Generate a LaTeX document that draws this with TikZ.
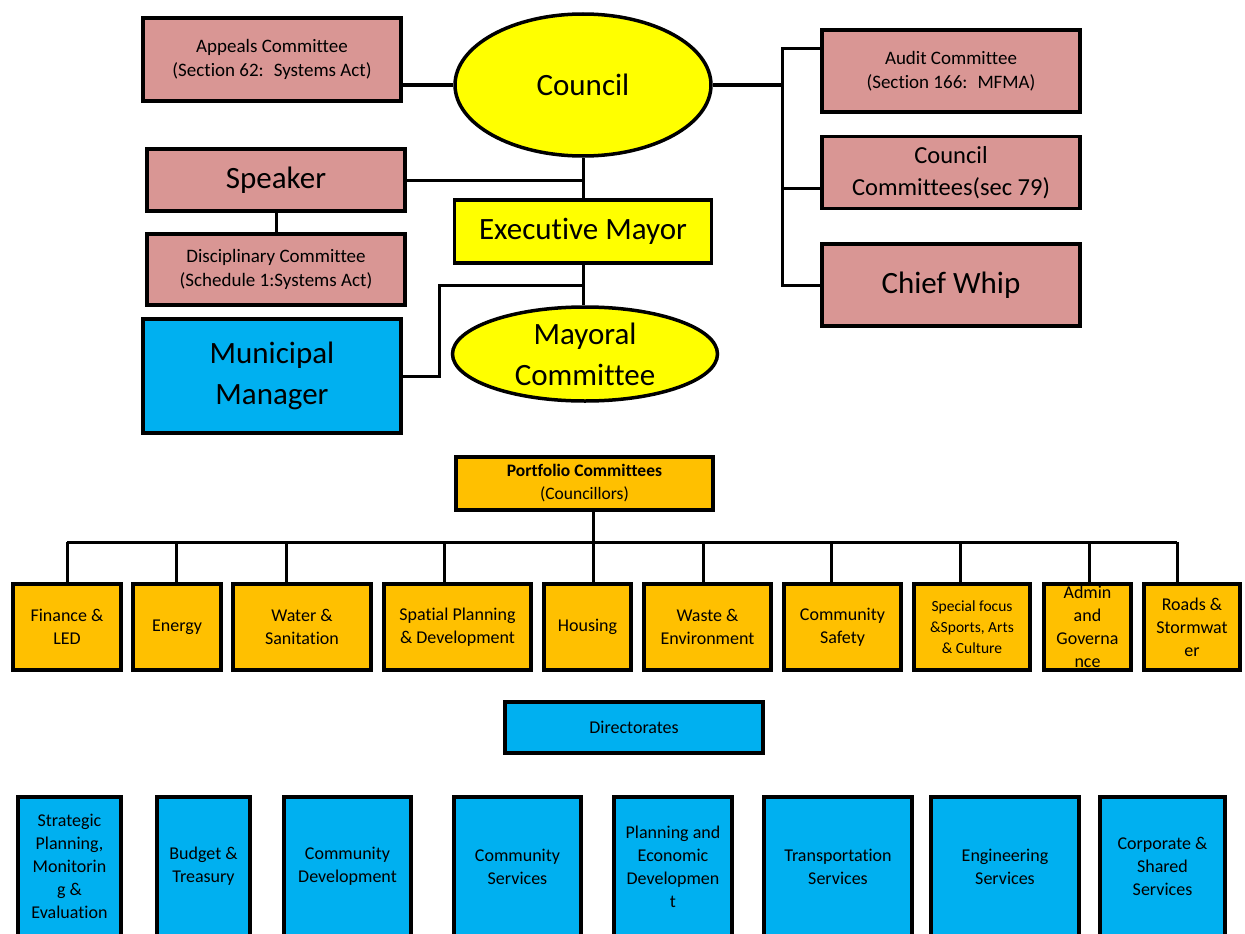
\documentclass[tikz,border=0pt]{standalone}
\usepackage{fontspec}
\setmainfont{Carlito}[Ligatures={NoCommon}]
\usetikzlibrary{shapes.geometric}
\definecolor{pinkbg}{HTML}{D99694}
\definecolor{yellowbg}{HTML}{FFFF00}
\definecolor{bluebg}{HTML}{00B0F0}
\definecolor{orangebg}{HTML}{FFC000}
\begin{document}
\begin{tikzpicture}[x=1pt,y=-1pt,
  box/.style={draw,line width=3.5pt,inner sep=1pt,align=center},
  pinkbox/.style={box,fill=pinkbg},
  portbox/.style={box,fill=orangebg,small,minimum height=86},
  dirbox/.style={box,fill=bluebg,small,minimum height=139},
  oval/.style={ellipse,draw,line width=3.5pt,fill=yellowbg,inner sep=0pt},
  big/.style={font=\fontsize{31}{41}\selectfont},
  small/.style={font=\fontsize{18}{23}\selectfont},
  tiny/.style={font=\fontsize{19}{24}\selectfont},
  wire/.style={line width=3pt}]
\path[use as bounding box,clip](0,0)rectangle(1245,934);

\node[oval,big,minimum width=256,minimum height=142](council)at(583,85){Council};
\node[pinkbox,tiny,minimum width=258,minimum height=83](appeals)at(272,59.5){Appeals Committee\\(Section 62:~ Systems Act)};
\node[pinkbox,big,minimum width=258,minimum height=62](speaker)at(276,180){Speaker};
\node[pinkbox,tiny,minimum width=258,minimum height=71](disc)at(276,269.5){Disciplinary Committee\\(Schedule 1:Systems Act)};
\node[box,fill=bluebg,big,minimum width=258,minimum height=114](mm)at(272,376){Municipal\\Manager};
\node[box,fill=yellowbg,big,minimum width=257,minimum height=63](exec)at(583,231.5){Executive Mayor};
\node[oval,minimum width=265,minimum height=94](mayoral)at(585,354){};
\node[big,align=center](mayoraltext)at(mayoral){Mayoral\\Committee};
\node[pinkbox,tiny,minimum width=258,minimum height=82](audit)at(951,71){Audit Committee\\(Section 166:~ MFMA)};
\node[pinkbox,font=\fontsize{24.5}{32}\selectfont,minimum width=258,minimum height=72](cc)at(951,172.5){Council\\Committees(sec 79)};
\node[pinkbox,big,minimum width=258,minimum height=82](whip)at(951,285){Chief Whip};

\coordinate(rbus)at(782,85);
\coordinate(mmknee)at(439,285);
\draw[wire](council.west)--(council.west-|appeals.east);
\draw[wire](council.east)--(rbus);
\draw[wire](audit.west|-0,49)-|(rbus|-whip.west)--(whip.west);
\draw[wire](rbus|-0,188)--(cc.west|-0,188);
\draw[wire](council.south)--(exec.north);
\draw[wire](speaker.east)--(speaker.east-|council.south);
\draw[wire](speaker.south)--(disc.north);
\draw[wire](exec.south)--(exec.south|-mayoral.north);
\draw[wire](mm.east)-|(mmknee)--(mmknee-|exec.south);

\node[box,fill=orangebg,font=\fontsize{17.5}{23}\selectfont,minimum width=257,minimum height=53](port)at(584.5,483.5){\textbf{Portfolio Committees}\\(Councillors)};
\foreach \n/\x/\w/\t in {p1/67/108/{Finance \&\\LED},p2/177/88/{Energy},p3/302/138/{Water \&\\Sanitation},
  p4/457.5/147/{Spatial Planning\\\& Development},p5/587.5/87/{Housing},p6/707.5/127/{Waste \&\\Environment},
  p7/842.5/117/{Community\\Safety},p9/1087.5/87/{Admin\\and\\Governa\\nce},p10/1192/96/{Roads \&\\Stormwat\\er}}
  \node[portbox,minimum width=\w](\n)at(\x,627){\t};
\node[portbox,font=\fontsize{15.5}{21}\selectfont,minimum width=116](p8)at(972,627){Special focus\\\&Sports, Arts\\\& Culture};

\coordinate(pbus)at(593,542);
\draw[wire](port.south-|pbus)--(pbus);
\draw[wire](p1.north|-pbus)--([xshift=-15]p10.north|-pbus);
\foreach \n/\dx in {p1/0,p2/-1,p3/-16,p4/-13,p5/5.5,p6/-4,p7/-11.5,p8/-12,p9/1.5,p10/-15}
  \draw[wire]([xshift=\dx]\n.north)--([xshift=\dx]\n.north|-pbus);

\node[box,fill=bluebg,small,minimum width=258,minimum height=51](dirs)at(634,727.5){Directorates};
\foreach \n/\x/\w/\t in {d1/69.5/103/{Strategic\\Planning,\\Monitorin\\g \&\\Evaluation},d2/203.5/93/{Budget \&\\Treasury},
  d3/347.5/127/{Community\\Development},d4/517.5/127/{Community\\Services},d5/673/118/{Planning and\\Economic\\Developmen\\t},
  d6/838/148/{Transportation\\Services},d7/1005/148/{Engineering\\Services},d8/1162.5/125/{Corporate \&\\Shared\\Services}}
  \node[dirbox,minimum width=\w](\n)at(\x,866.5){\t};

\end{tikzpicture}
\end{document}
